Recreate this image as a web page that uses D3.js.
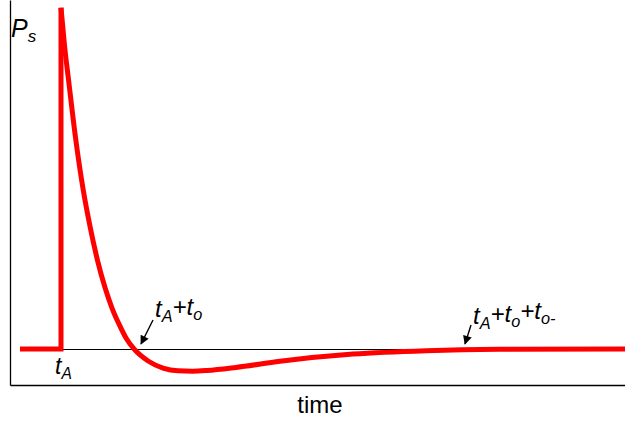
<!DOCTYPE html>
<html>
<head>
<meta charset="utf-8">
<script src="https://cdn.jsdelivr.net/npm/d3@7"></script>
<style>
  body { margin: 0; background: #fff; }
  text { font-family: "Liberation Sans", Arial, sans-serif; fill: #000; }
</style>
</head>
<body>
<svg width="625" height="424"></svg>
<script>
// arrival time and durations (arbitrary time units)
var tA = 1.02;
var tO = 1.46;
var tOneg = 6.48;

// blast pressure trace (relative to peak Ps)
var stepTime = [0.2, 1.02, 1.02];
var stepPress = [0, 0, 1.0];
var decayTime = [1.02, 1.09, 1.17, 1.31, 1.46, 1.6, 1.75, 1.9, 2.04, 2.19, 2.33, 2.48,
                 2.77, 3.06, 3.36, 3.65, 3.94, 4.52, 5.4, 6.86, 8.32, 9.78, 12.3];
var decayPress = [1.0, 0.89, 0.79, 0.62, 0.47, 0.36, 0.26, 0.18, 0.12, 0.07, 0.03, 0,
                  -0.036, -0.056, -0.064, -0.065, -0.063, -0.054, -0.036, -0.015, -0.005, -0.001, 0];

var timeRange = [0, 12.3];
var pressRange = [-0.1056, 1.023];

var svg = d3.select('svg');

var xScale = d3.scaleLinear().domain(timeRange).range([10, 625]);
var yScale = d3.scaleLinear().domain(pressRange).range([385, 0]);

// axes, no ticks
svg.append('g')
    .attr('transform', 'translate(10,0)')
    .call(d3.axisLeft(yScale).tickValues([]).tickSizeOuter(0))
    .select('.domain').attr('stroke', '#000').attr('stroke-width', 1.3);

svg.append('g')
    .attr('transform', 'translate(0,385)')
    .call(d3.axisBottom(xScale).tickValues([]).tickSizeOuter(0))
    .select('.domain').attr('stroke', '#000').attr('stroke-width', 1.3);

// ambient pressure line
svg.append('line')
    .attr('x1', xScale(tA)).attr('x2', xScale(timeRange[1]))
    .attr('y1', Math.round(yScale(0)) + 0.5).attr('y2', Math.round(yScale(0)) + 0.5)
    .attr('stroke', '#000')
    .attr('stroke-width', 1.2);

// red trace
var lineStep = d3.line()
    .x((d, i) => xScale(stepTime[i]))
    .y((d, i) => yScale(stepPress[i]));
var lineDecay = d3.line()
    .x((d, i) => xScale(decayTime[i]))
    .y((d, i) => yScale(decayPress[i]))
    .curve(d3.curveMonotoneX);

svg.append('path')
    .attr('d', lineStep(stepTime))
    .attr('fill', 'none')
    .attr('stroke', '#ff0000')
    .attr('stroke-width', 5)
    .attr('stroke-linejoin', 'miter');

svg.append('path')
    .attr('d', lineDecay(decayTime))
    .attr('fill', 'none')
    .attr('stroke', '#ff0000')
    .attr('stroke-width', 5);

// arrow marker
svg.append('defs').append('marker')
    .attr('id', 'arrow')
    .attr('viewBox', '0 0 10 10')
    .attr('refX', 9).attr('refY', 5)
    .attr('markerWidth', 10).attr('markerHeight', 9)
    .attr('markerUnits', 'userSpaceOnUse')
    .attr('orient', 'auto')
    .append('path')
        .attr('d', 'M0,0L10,5L0,10Z')
        .attr('fill', '#000');

function arrow(t, dx, dy) {
    var x = xScale(t), y = yScale(0);
    svg.append('line')
        .attr('x1', x + dx).attr('y1', y + dy)
        .attr('x2', x + 7).attr('y2', y - 5)
        .attr('stroke', '#000')
        .attr('stroke-width', 1.4)
        .attr('marker-end', 'url(#arrow)');
}
arrow(tA + tO, 19, -29);
arrow(tA + tO + tOneg, 13, -24);

// labels
function sub(el, main, s) {
    el.append('tspan').text(main);
    el.append('tspan').attr('font-size', '0.68em').attr('dy', '0.3em').text(s);
    return el;
}

var ps = svg.append('text')
    .attr('x', 11).attr('y', 37)
    .attr('font-size', 25)
    .attr('font-style', 'italic');
sub(ps, 'P', 's');

var la = svg.append('text')
    .attr('x', xScale(tA) - 6).attr('y', 374)
    .attr('font-size', 23)
    .attr('font-style', 'italic');
sub(la, 't', 'A');

var lb = svg.append('text')
    .attr('x', 155).attr('y', 317)
    .attr('font-size', 24)
    .attr('font-style', 'italic');
lb.append('tspan').text('t');
lb.append('tspan').attr('font-size', '0.68em').attr('dy', '0.3em').text('A');
lb.append('tspan').attr('dy', '-0.3em').text('+t');
lb.append('tspan').attr('font-size', '0.68em').attr('dy', '0.3em').text('o');

var lc = svg.append('text')
    .attr('x', 473).attr('y', 324)
    .attr('font-size', 24)
    .attr('font-style', 'italic');
lc.append('tspan').text('t');
lc.append('tspan').attr('font-size', '0.68em').attr('dy', '0.3em').text('A');
lc.append('tspan').attr('dy', '-0.3em').text('+t');
lc.append('tspan').attr('font-size', '0.68em').attr('dy', '0.3em').text('o');
lc.append('tspan').attr('dy', '-0.3em').text('+t');
lc.append('tspan').attr('font-size', '0.68em').attr('dy', '0.3em').text('o-');

svg.append('text')
    .attr('x', 320).attr('y', 413)
    .attr('text-anchor', 'middle')
    .attr('font-size', 24)
    .text('time');
</script>
</body>
</html>
